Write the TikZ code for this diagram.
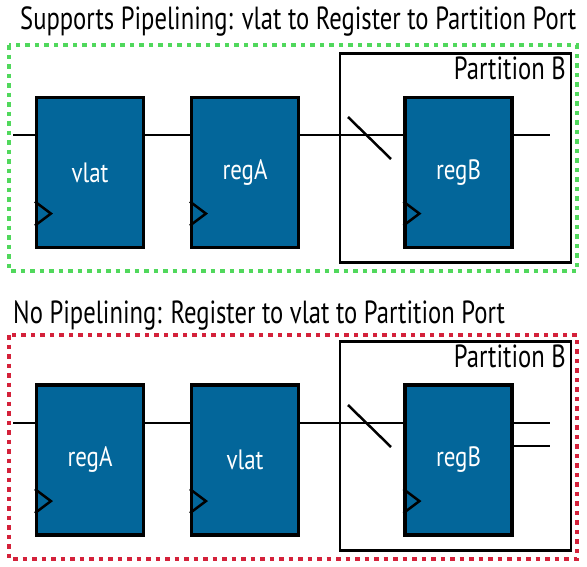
\documentclass[tikz,border=0pt]{standalone}
\usepackage{fontspec}
\newfontfamily\cond[FakeStretch=0.77]{PT Sans}
\newfontfamily\condl[FakeStretch=0.82]{PT Sans}
\definecolor{blkblue}{RGB}{3,102,154}
\definecolor{dotgreen}{RGB}{80,216,92}
\definecolor{dotred}{RGB}{212,33,58}
\begin{document}
\begin{tikzpicture}[x=1pt,y=-1pt,
  blk/.style={draw=black,line width=3.2pt,fill=blkblue,minimum width=107pt,minimum height=150pt,inner sep=0pt,
    text=white,font=\condl\fontsize{28}{28}\selectfont},
  wire/.style={draw=black,line width=2.5pt},
  clk/.style={draw=black,line width=2.5pt},
  partbox/.style={draw=black,line width=2.5pt,minimum width=231pt,minimum height=209pt,inner sep=0pt},
  frame/.style={line width=4pt,dash pattern=on 4.5pt off 5pt},
  ttl/.style={font=\cond\fontsize{32}{32}\selectfont,inner sep=0pt},
]
\useasboundingbox (0,0) rectangle (587,566);

% ---------- top ----------
\node[ttl,anchor=base west] (t1) at (20,29) {Supports Pipelining: vlat to Register to Partition Port};
\draw[frame,dotgreen] (9,45) rectangle (577,271);
\node[partbox] (pB1) at (455.5,158) {};
\node[ttl,anchor=base east] (pl1) at (566,79) {Partition B};

\node[blk] (vlat1) at (90,172.5) {vlat};
\node[blk] (regA1) at (245,172.5) {regA};
\node[blk] (regB1) at (458.5,172.5) {regB};

\coordinate (in1) at (13,135);
\coordinate (out1) at (550,135);
\draw[wire] (in1) -- (in1 -| vlat1.west);
\draw[wire] (vlat1.east |- in1) -- (regA1.west |- in1);
\draw[wire] (regA1.east |- in1) -- (regB1.west |- in1);
\draw[wire] (regB1.east |- out1) -- (out1);
\coordinate (s1a) at (348,117);
\coordinate (s1b) at (391,159);
\draw[wire] (s1a) -- (s1b);

\foreach \b in {vlat1,regA1,regB1}{
  \draw[clk] ([yshift=47.5pt]\b.south west) -- ++(16,12) -- ++(-16,12);
}

% ---------- bottom ----------
\node[ttl,anchor=base west] (t2) at (13,323) {No Pipelining: Register to vlat to Partition Port};
\draw[frame,dotred] (9,335) rectangle (577,559);
\node[partbox] (pB2) at (455.5,446) {};
\node[ttl,anchor=base east] (pl2) at (566,367) {Partition B};

\node[blk] (regA2) at (90,460) {regA};
\node[blk] (vlat2) at (245,460) {vlat};
\node[blk] (regB2) at (458.5,460) {regB};

\coordinate (in2) at (13,423);
\coordinate (out2a) at (550,423);
\coordinate (out2b) at (550,446);
\draw[wire] (in2) -- (in2 -| regA2.west);
\draw[wire] (regA2.east |- in2) -- (vlat2.west |- in2);
\draw[wire] (vlat2.east |- in2) -- (regB2.west |- in2);
\draw[wire] (regB2.east |- out2a) -- (out2a);
\draw[wire] (regB2.east |- out2b) -- (out2b);
\coordinate (s2a) at (348,405);
\coordinate (s2b) at (391,447);
\draw[wire] (s2a) -- (s2b);

\foreach \b in {regA2,vlat2,regB2}{
  \draw[clk] ([yshift=47.5pt]\b.south west) -- ++(16,12) -- ++(-16,12);
}
\end{tikzpicture}
\end{document}
